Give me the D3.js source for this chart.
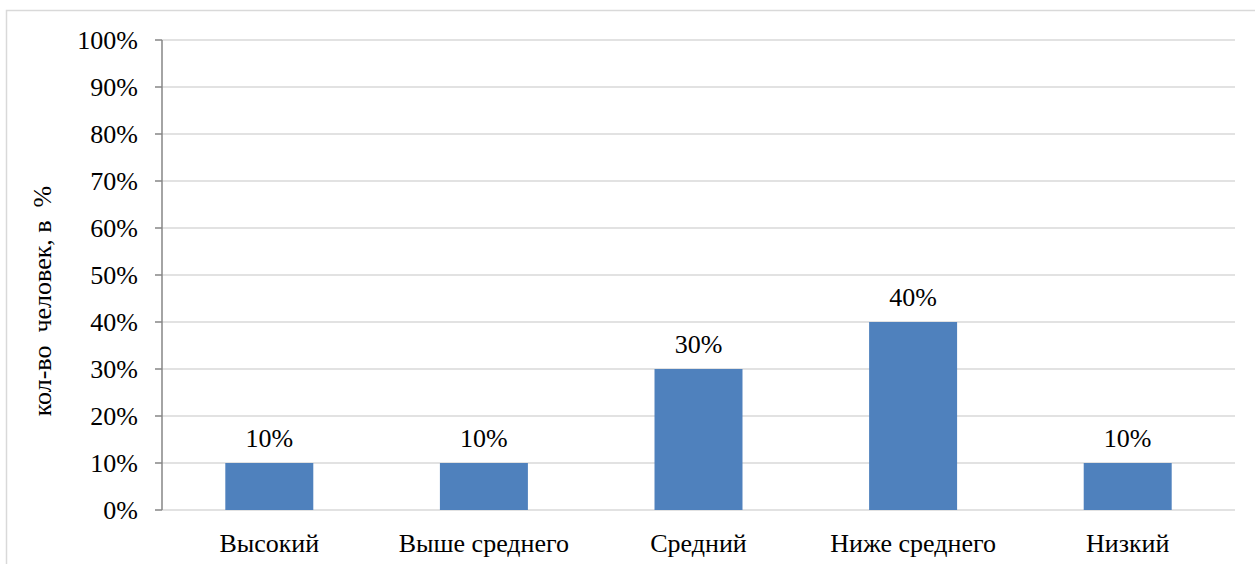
<!DOCTYPE html>
<html><head><meta charset="utf-8">
<script src="https://cdn.jsdelivr.net/npm/d3@7/dist/d3.min.js"></script>
<style>body{margin:0;background:#fff}svg{display:block}</style>
</head><body><svg id="c" width="1255" height="564"></svg>
<script>
const categories = ["Высокий", "Выше среднего", "Средний", "Ниже среднего", "Низкий"];
const values = [10, 10, 30, 40, 10];
const yTicks = [0, 10, 20, 30, 40, 50, 60, 70, 80, 90, 100];
const yTitle = "кол-во\u00a0 человек, в\u00a0 %";

const svg = d3.select("#c");
function txt() {
  return svg.append("text").style("font-family", '"Liberation Serif"').style("font-size", "26px");
}
svg.append("rect").attr("x", 6.5).attr("y", 10.5).attr("width", 1260).attr("height", 570)
  .attr("fill", "#fff").attr("stroke", "#d9d9d9").attr("stroke-width", 1.5);

const x0 = 162, x1 = 1235, yTop = 40, yBot = 510;
const x = d3.scaleBand().domain(categories).range([x0, x1]).paddingInner(0.59).paddingOuter(0.295);
const y = d3.scaleLinear().domain([0, 100]).range([yBot, yTop]);
const fmt = d => d + "%";

// gridlines
yTicks.forEach(t => {
  svg.append("line").attr("x1", x0).attr("x2", x1).attr("y1", y(t)).attr("y2", y(t))
    .attr("stroke", "#d9d9d9").attr("stroke-width", 1.5);
});

// y axis line and ticks
svg.append("line").attr("x1", x0).attr("x2", x0).attr("y1", y(0)).attr("y2", y(100))
  .attr("stroke", "#868686").attr("stroke-width", 1.5);
yTicks.forEach(t => {
  svg.append("line").attr("x1", x0 - 7).attr("x2", x0).attr("y1", y(t)).attr("y2", y(t))
    .attr("stroke", "#868686").attr("stroke-width", 1.5);
  txt().attr("x", x0 - 24).attr("y", y(t) + 9).attr("text-anchor", "end").text(fmt(t));
});

// bars
values.forEach((v, i) => {
  svg.append("rect").attr("x", x(categories[i])).attr("width", x.bandwidth())
    .attr("y", y(v)).attr("height", yBot - y(v)).attr("fill", "#4f81bd");
});

// data labels
values.forEach((v, i) => {
  txt().attr("x", x(categories[i]) + x.bandwidth() / 2).attr("y", y(v) - 16)
    .attr("text-anchor", "middle").text(fmt(v));
});

// category labels
categories.forEach(c => {
  txt().attr("x", x(c) + x.bandwidth() / 2).attr("y", 552).attr("text-anchor", "middle").text(c);
});

// y title
txt().attr("transform", "translate(51,301) rotate(-90)").attr("text-anchor", "middle").text(yTitle);
</script></body></html>
